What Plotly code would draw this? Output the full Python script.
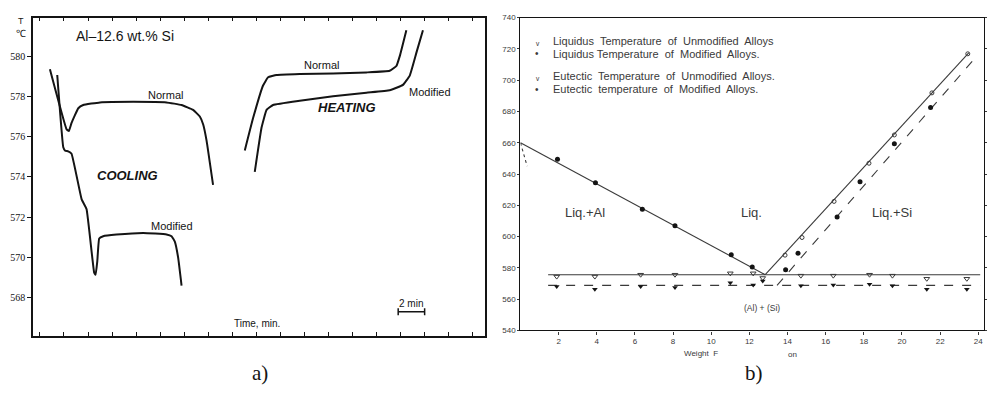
import plotly.graph_objects as go

W, H = 987, 394


def px(x):
    return x / W


def py(y):
    return 1 - y / H


# ---------------- Panel a: cooling / heating curves (time in min, T in degC)
cool_norm_t = [0.83, 2.22, 2.41, 2.63, 3.19, 3.6, 4.99, 7.76, 10.53, 11.78, 12.74, 13.3, 13.58, 13.86, 14.4]
cool_norm_T = [579.35, 576.36, 576.28, 576.68, 577.41, 577.57, 577.7, 577.73, 577.7, 577.57, 577.33, 577.0, 576.6, 575.8, 573.6]

cool_mod_t = [1.44, 1.94, 2.1, 2.35, 2.63, 3.47, 3.88, 4.51, 4.63, 4.77, 4.93, 5.26, 6.37, 8.59, 10.53, 10.95, 11.22, 11.5, 11.78]
cool_mod_T = [579.06, 575.47, 575.3, 575.27, 575.15, 572.88, 572.39, 569.24, 569.13, 569.8, 570.94, 571.05, 571.13, 571.21, 571.14, 571.05, 570.78, 569.97, 568.6]

heat_norm_t = [17.04, 17.73, 18.56, 18.98, 19.68, 21.61, 24.38, 27.16, 29.09, 29.65, 29.93, 30.48]
heat_norm_T = [575.31, 576.92, 578.54, 578.95, 579.06, 579.11, 579.14, 579.19, 579.27, 579.51, 580.0, 581.29]

heat_mod_t = [17.87, 18.43, 18.85, 19.39, 21.61, 24.38, 27.16, 29.09, 30.2, 30.76, 31.31, 31.86]
heat_mod_T = [574.25, 576.44, 577.33, 577.57, 577.78, 578.0, 578.18, 578.3, 578.57, 579.03, 580.16, 581.29]

a_yticks = [568, 570, 572, 574, 576, 578, 580]
a_xticks = list(range(0, 37, 2))
scale_bar_t = [29.8, 32.0]
scale_bar_T = [567.3, 567.3]

# ---------------- Panel b: Al-Si phase diagram (wt.% Si, T in degC)
liq_mod_x = [1.94, 3.93, 6.39, 8.1, 11.05, 12.15, 13.9, 14.55, 16.6, 17.8, 19.6, 21.5]
liq_mod_T = [649.4, 634.4, 617.5, 606.9, 588.4, 580.6, 578.7, 589.4, 612.5, 635.0, 659.4, 682.5]

liq_unmod_x = [13.87, 14.76, 16.44, 18.27, 19.6, 21.57, 23.45]
liq_unmod_T = [588.1, 599.4, 622.5, 646.9, 665.0, 691.9, 716.9]

eut_x = [1.9, 3.9, 6.3, 8.1, 11.0, 12.2, 12.7, 14.7, 16.4, 18.3, 19.5, 21.3, 23.4]
eut_unmod_T = [574.4, 574.4, 575.6, 575.6, 576.5, 576.5, 573.5, 575.0, 575.0, 575.6, 575.0, 573.0, 573.0]
eut_mod_T = [568.0, 566.3, 568.0, 567.5, 570.5, 569.0, 571.5, 568.5, 569.0, 569.5, 568.5, 566.3, 566.3]

liq_hypo_line_x = [0.0, 12.83]
liq_hypo_line_T = [660.0, 575.6]
liq_hypo_mod_line_x = [0.0, 0.35]
liq_hypo_mod_line_T = [660.0, 645.0]
liq_hyper_unmod_line_x = [12.83, 23.5]
liq_hyper_unmod_line_T = [575.6, 717.5]
liq_hyper_mod_line_x = [13.45, 23.75]
liq_hyper_mod_line_T = [568.8, 713.0]
eut_line_x = [1.45, 24.1]
eut_unmod_line_T = [575.6, 575.6]
eut_mod_line_T = [568.8, 568.8]

b_xticks = list(range(2, 25, 2))
b_yticks = list(range(540, 741, 20))

legend_labels = [
    "Liquidus  Temperature  of  Unmodified  Alloys",
    "Liquidus Temperature  of  Modified  Alloys.",
    "Eutectic  Temperature  of  Unmodified  Alloys.",
    "Eutectic  temperature  of  Modified  Alloys.",
]
legend_symbols = ["ᵥ", "•", "ᵥ", "•"]

INK = "#141414"
INKB = "#3a3a3a"
FONT = "Liberation Sans"

fig = go.Figure()

# panel a curves
for t, T in [(cool_norm_t, cool_norm_T), (cool_mod_t, cool_mod_T),
             (heat_norm_t, heat_norm_T), (heat_mod_t, heat_mod_T)]:
    fig.add_trace(go.Scatter(x=t, y=T, mode="lines", line=dict(color=INK, width=2, shape="spline", smoothing=0.3),
                             showlegend=False, hoverinfo="skip", xaxis="x", yaxis="y"))
fig.add_trace(go.Scatter(x=scale_bar_t, y=scale_bar_T, mode="lines+markers",
                         line=dict(color=INK, width=1.5),
                         marker=dict(symbol="line-ns", size=5, line=dict(color=INK, width=1.5)),
                         showlegend=False, hoverinfo="skip", xaxis="x", yaxis="y"))

# panel b lines
for lx, lT, dash in [(liq_hypo_line_x, liq_hypo_line_T, "solid"),
                     (liq_hypo_mod_line_x, liq_hypo_mod_line_T, "dot"),
                     (liq_hyper_unmod_line_x, liq_hyper_unmod_line_T, "solid"),
                     (liq_hyper_mod_line_x, liq_hyper_mod_line_T, "dash"),
                     (eut_line_x, eut_unmod_line_T, "solid"),
                     (eut_line_x, eut_mod_line_T, "dash")]:
    fig.add_trace(go.Scatter(x=lx, y=lT, mode="lines", line=dict(color=INKB, width=1.1, dash=dash),
                             showlegend=False, hoverinfo="skip", xaxis="x2", yaxis="y2"))

fig.add_trace(go.Scatter(x=liq_unmod_x, y=liq_unmod_T, mode="markers", name=legend_labels[0],
                         marker=dict(symbol="circle-open", size=4, color=INKB, line=dict(width=1)),
                         showlegend=False, xaxis="x2", yaxis="y2"))
fig.add_trace(go.Scatter(x=liq_mod_x, y=liq_mod_T, mode="markers", name=legend_labels[1],
                         marker=dict(symbol="circle", size=5, color=INK),
                         showlegend=False, xaxis="x2", yaxis="y2"))
fig.add_trace(go.Scatter(x=eut_x, y=eut_unmod_T, mode="markers", name=legend_labels[2],
                         marker=dict(symbol="triangle-down-open", size=5, color=INKB, line=dict(width=1)),
                         showlegend=False, xaxis="x2", yaxis="y2"))
fig.add_trace(go.Scatter(x=eut_x, y=eut_mod_T, mode="markers", name=legend_labels[3],
                         marker=dict(symbol="triangle-down", size=5, color=INK),
                         showlegend=False, xaxis="x2", yaxis="y2"))

ann = []


def txt(x, y, s, size, **kw):
    d = dict(x=px(x), y=py(y), xref="paper", yref="paper", text=s, showarrow=False,
             font=dict(family=kw.pop("family", FONT), size=size, color=kw.pop("color", INK)),
             xanchor=kw.pop("xanchor", "center"), yanchor=kw.pop("yanchor", "middle"))
    d.update(kw)
    ann.append(d)


# panel a texts
txt(125, 33, "Al–12.6 wt.% Si", 14)
txt(166, 93, "Normal", 11)
txt(322, 62, "Normal", 11)
txt(430, 90, "Modified", 11)
txt(347, 106, "<b><i>HEATING</i></b>", 13)
txt(128, 175, "<b><i>COOLING</i></b>", 13)
txt(172, 227, "Modified", 11)
txt(411, 306, "2 min", 10)
txt(257, 327, "Time, min.", 10)
txt(21, 17, "T", 9)
txt(21, 30, "℃", 10)
txt(260, 378, "a)", 21, family="Liberation Serif")

# panel b legend (drawn as text rows)
for row_y, sym, lab in zip([38, 51, 74, 87], legend_symbols, legend_labels):
    txt(538, row_y, sym, 10, color=INKB)
    txt(552, row_y, lab, 11, color=INKB, xanchor="left")

# panel b texts
txt(586, 213, "Liq.+Al", 13, color=INKB)
txt(752, 213, "Liq.", 13, color=INKB)
txt(893, 213, "Liq.+Si", 13, color=INKB)
txt(763, 311, "(Al) + (Si)", 8.5, color=INKB)
txt(702, 358, "Weight  F", 8, color=INKB)
txt(793, 359, "on", 8, color=INKB)
txt(755, 378, "b)", 21, family="Liberation Serif")

fig.update_layout(
    width=W, height=H,
    margin=dict(l=0, r=0, t=0, b=0),
    paper_bgcolor="white", plot_bgcolor="rgba(0,0,0,0)",
    font=dict(family=FONT, color=INK),
    annotations=ann,
    showlegend=False,
    xaxis=dict(domain=[px(33), px(485)], range=[-0.58, 36.98], tickvals=a_xticks,
               ticks="inside", ticklen=4, tickcolor=INK, tickwidth=1,
               showticklabels=False, showline=True, linecolor=INK, linewidth=1.5,
               mirror="allticks", showgrid=False, zeroline=False, anchor="y"),
    yaxis=dict(domain=[py(340), py(14)], range=[566.08, 581.91], tickvals=a_yticks,
               ticks="outside", ticklen=4, tickcolor=INK, tickwidth=1.2,
               tickfont=dict(size=10, color=INK, family="Liberation Sans Narrow"),
               showline=True, linecolor=INK, linewidth=1.5, mirror=True,
               showgrid=False, zeroline=False, anchor="x"),
    xaxis2=dict(domain=[px(521), px(985)], range=[0, 24.3], tickvals=b_xticks,
                ticks="outside", ticklen=3, tickcolor=INKB, tickwidth=1,
                tickfont=dict(size=8, color=INKB), ticklabeloverflow="allow",
                showline=True, linecolor=INK, linewidth=1.3,
                mirror=True, showgrid=False, zeroline=False, anchor="y2"),
    yaxis2=dict(domain=[py(334), py(14)], range=[540, 740], tickvals=b_yticks,
                ticks="outside", ticklen=2, tickcolor=INKB, tickwidth=1,
                tickfont=dict(size=8, color=INKB), showline=True, linecolor=INK, linewidth=1.3,
                mirror="allticks", showgrid=False, zeroline=False, anchor="x2"),
)

# remove the browser's default 8px page margin so the figure sits at the window origin
fig.write_html("out.html",
               config={"displayModeBar": False},
               post_script="document.body.style.margin='0px';document.body.style.overflow='hidden';")
